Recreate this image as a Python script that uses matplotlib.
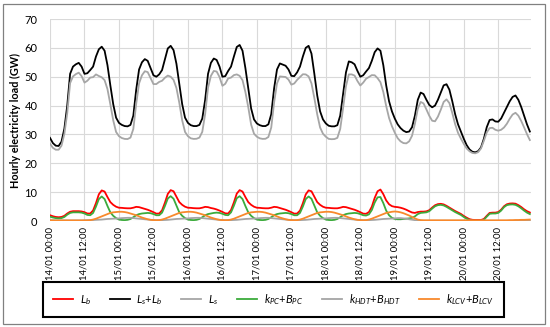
import numpy as np
import matplotlib.pyplot as plt
from matplotlib.patches import Rectangle

plt.rcParams['font.family'] = ['Lato', 'DejaVu Sans']
plt.rcParams['mathtext.fontset'] = 'custom'
plt.rcParams['mathtext.it'] = 'Lato:italic'
plt.rcParams['mathtext.rm'] = 'Lato'

# hourly values, 14/01 00:00 .. 20/01 23:00
tick_labels = ['14/01 00:00', '14/01 12:00', '15/01 00:00', '15/01 12:00',
               '16/01 00:00', '16/01 12:00', '17/01 00:00', '17/01 12:00',
               '18/01 00:00', '18/01 12:00', '19/01 00:00', '19/01 12:00',
               '20/01 00:00', '20/01 12:00']

# Ls+Lb (GW)
ls_lb = [
    28.8, 27.0, 26.1, 26.0, 27.5, 32.0, 40.0, 51.0, 53.5, 54.3, 54.8, 53.5, 51.0, 51.2, 52.3, 53.5, 57.0, 59.5, 60.4, 59.0, 54.0, 47.0, 40.5, 35.8,
    34.0, 33.3, 32.9, 32.8, 33.3, 36.5, 45.5, 52.5, 55.0, 56.1, 55.5, 53.0, 50.5, 50.0, 50.8, 52.3, 56.0, 59.8, 60.7, 59.2, 54.5, 47.5, 40.5, 35.8,
    34.0, 33.2, 32.9, 32.9, 33.3, 35.5, 42.0, 51.0, 54.8, 56.3, 55.8, 53.5, 50.0, 50.2, 52.0, 53.5, 57.0, 60.3, 61.0, 59.0, 53.0, 46.0, 39.0, 35.2,
    33.8, 33.2, 32.9, 32.9, 33.5, 37.0, 46.0, 52.5, 54.6, 54.2, 53.8, 52.5, 50.3, 50.2, 51.5, 53.5, 57.0, 60.0, 60.7, 58.0, 51.0, 43.5, 38.0, 35.2,
    33.8, 33.0, 32.8, 32.8, 33.2, 36.5, 44.0, 51.5, 55.3, 55.0, 54.3, 52.0, 50.0, 50.5, 51.8, 53.0, 55.5, 58.5, 59.8, 59.0, 54.0, 47.0, 41.5, 38.0,
    35.5, 33.5, 32.2, 31.3, 30.8, 31.0, 32.5, 36.5, 42.0, 44.5, 44.0, 42.0, 40.2, 39.4, 40.0, 42.0, 44.5, 47.0, 47.4, 45.5, 41.5, 37.0, 33.5, 31.0,
    28.5, 26.3, 24.8, 24.0, 23.8, 24.2, 25.5, 28.5, 32.5, 35.0, 35.2, 34.5, 34.4, 35.5, 37.5, 39.5, 41.5, 43.0, 43.5, 42.0, 39.5, 36.5, 33.5, 31.0,
]

# kPC+BPC
k_pc = [
    1.5, 1.2, 1.0, 0.9, 1.0, 1.4, 2.2, 2.8, 3.0, 3.0, 3.0, 2.9, 2.6, 2.1, 2.0, 2.8, 5.0, 7.6, 8.5, 7.6, 5.2, 3.0, 1.8, 1.0,
    0.5, 0.35, 0.3, 0.4, 0.7, 1.3, 2.0, 2.4, 2.6, 2.7, 2.8, 2.7, 2.4, 2.0, 2.0, 2.9, 5.2, 7.8, 8.6, 7.7, 5.3, 3.0, 1.8, 1.0,
    0.5, 0.35, 0.3, 0.4, 0.7, 1.3, 2.0, 2.4, 2.6, 2.8, 2.9, 2.8, 2.5, 2.1, 2.0, 3.0, 5.3, 7.9, 8.6, 7.6, 5.2, 3.0, 1.8, 1.0,
    0.5, 0.35, 0.3, 0.4, 0.7, 1.3, 2.0, 2.4, 2.6, 2.7, 2.8, 2.7, 2.4, 2.0, 2.0, 2.8, 5.0, 7.6, 8.5, 7.7, 5.3, 3.0, 1.8, 1.0,
    0.5, 0.35, 0.3, 0.4, 0.7, 1.3, 2.0, 2.4, 2.6, 2.7, 2.8, 2.7, 2.4, 2.0, 1.9, 2.3, 3.8, 6.4, 8.2, 8.3, 6.2, 3.6, 2.0, 1.1,
    0.7, 0.6, 0.6, 0.7, 0.8, 0.9, 1.1, 1.6, 2.4, 2.8, 2.9, 3.0, 3.4, 4.3, 5.1, 5.5, 5.6, 5.4, 4.9, 4.3, 3.7, 3.1, 2.6, 2.1,
    1.4, 0.8, 0.3, 0.1, 0.05, 0.05, 0.05, 0.4, 1.5, 2.5, 2.6, 2.6, 2.8, 3.6, 4.8, 5.5, 5.7, 5.75, 5.6, 5.1, 4.4, 3.6, 2.9, 2.4,
]

# kHDT+BHDT
k_hdt = [
    0.2, 0.2, 0.2, 0.2, 0.2, 0.2, 0.2, 0.2, 0.2, 0.2, 0.2, 0.2, 0.25, 0.3, 0.3, 0.35, 0.4, 0.45, 0.5, 0.6, 0.7, 0.75, 0.8, 0.85,
    0.9, 1.0, 1.05, 1.1, 1.1, 1.0, 0.9, 0.8, 0.7, 0.6, 0.5, 0.4, 0.35, 0.3, 0.3, 0.3, 0.35, 0.4, 0.5, 0.6, 0.7, 0.75, 0.8, 0.85,
    0.9, 1.0, 1.05, 1.1, 1.1, 1.0, 0.9, 0.8, 0.7, 0.6, 0.5, 0.4, 0.35, 0.3, 0.3, 0.3, 0.35, 0.4, 0.5, 0.6, 0.7, 0.75, 0.8, 0.85,
    0.9, 1.0, 1.05, 1.1, 1.1, 1.0, 0.9, 0.8, 0.7, 0.6, 0.5, 0.4, 0.35, 0.3, 0.3, 0.3, 0.35, 0.4, 0.5, 0.6, 0.7, 0.75, 0.8, 0.85,
    0.9, 1.0, 1.05, 1.1, 1.1, 1.0, 0.9, 0.8, 0.7, 0.6, 0.5, 0.4, 0.35, 0.3, 0.3, 0.3, 0.35, 0.4, 0.5, 0.6, 0.7, 0.75, 0.8, 0.85,
    0.9, 1.0, 1.0, 0.9, 0.8, 0.6, 0.45, 0.3, 0.2, 0.15, 0.1, 0.1, 0.1, 0.1, 0.1, 0.1, 0.1, 0.1, 0.1, 0.1, 0.1, 0.1, 0.1, 0.1,
    0.1, 0.1, 0.08, 0.06, 0.05, 0.05, 0.05, 0.05, 0.05, 0.05, 0.05, 0.05, 0.05, 0.05, 0.05, 0.05, 0.05, 0.05, 0.05, 0.05, 0.05, 0.05, 0.05, 0.05,
]

# kLCV+BLCV
k_lcv = [
    0.3, 0.25, 0.2, 0.2, 0.2, 0.2, 0.2, 0.2, 0.2, 0.2, 0.2, 0.2, 0.2, 0.2, 0.3, 0.5, 0.8, 1.2, 1.6, 2.0, 2.4, 2.8, 3.0, 3.1,
    3.2, 3.2, 3.1, 2.9, 2.6, 2.3, 2.0, 1.6, 1.2, 0.9, 0.6, 0.4, 0.3, 0.25, 0.3, 0.5, 0.8, 1.2, 1.6, 2.0, 2.4, 2.8, 3.0, 3.1,
    3.2, 3.2, 3.1, 2.9, 2.6, 2.3, 2.0, 1.6, 1.2, 0.9, 0.6, 0.4, 0.3, 0.25, 0.3, 0.5, 0.8, 1.2, 1.6, 2.0, 2.4, 2.8, 3.0, 3.1,
    3.2, 3.2, 3.1, 2.9, 2.6, 2.3, 2.0, 1.6, 1.2, 0.9, 0.6, 0.4, 0.3, 0.25, 0.3, 0.5, 0.8, 1.2, 1.6, 2.0, 2.4, 2.8, 3.0, 3.1,
    3.2, 3.2, 3.1, 2.9, 2.6, 2.3, 2.0, 1.6, 1.2, 0.9, 0.6, 0.4, 0.3, 0.25, 0.3, 0.5, 0.8, 1.2, 1.6, 2.0, 2.4, 2.8, 3.0, 3.2,
    3.3, 3.2, 3.0, 2.7, 2.3, 1.9, 1.4, 0.9, 0.5, 0.3, 0.25, 0.25, 0.25, 0.25, 0.25, 0.25, 0.25, 0.25, 0.25, 0.25, 0.25, 0.25, 0.25, 0.25,
    0.25, 0.25, 0.25, 0.25, 0.25, 0.25, 0.25, 0.25, 0.25, 0.25, 0.25, 0.25, 0.25, 0.25, 0.25, 0.25, 0.3, 0.3, 0.35, 0.35, 0.4, 0.4, 0.45, 0.5,
]

hours = np.arange(len(ls_lb))
l_b = np.array(k_pc) + np.array(k_hdt) + np.array(k_lcv)
l_s = np.array(ls_lb) - l_b

fig = plt.figure(figsize=(5.5, 3.27), dpi=100)
ax = fig.add_axes([50 / 550, 1 - 221 / 327, 481 / 550, 202 / 327])

lw = 1.3
ax.plot(hours, l_b, color='#ff0000', lw=lw, label=r'$L_b$')
ax.plot(hours, ls_lb, color='#000000', lw=lw, label=r'$L_s$+$L_b$')
ax.plot(hours, l_s, color='#a6a6a6', lw=lw, label=r'$L_s$')
ax.plot(hours, k_pc, color='#3cab3c', lw=lw, label=r'$k_{PC}$+$B_{PC}$')
ax.plot(hours, k_hdt, color='#a5a5a5', lw=lw, label=r'$k_{HDT}$+$B_{HDT}$')
ax.plot(hours, k_lcv, color='#f8892c', lw=lw, label=r'$k_{LCV}$+$B_{LCV}$')

ax.set_xlim(0, 167.4)
ax.set_ylim(0, 70)
ax.set_yticks(range(0, 71, 10))
ax.set_xticks(range(0, 168, 12))
ax.set_xticklabels(tick_labels, rotation=90, fontsize=6.8)
ax.tick_params(axis='y', labelsize=8, length=0, pad=9)
ax.tick_params(axis='x', length=0, pad=4)
ax.grid(color='#d9d9d9', lw=0.8)
ax.set_axisbelow(True)
for s in ax.spines.values():
    s.set_visible(False)

fig.text(15 / 550, 1 - 120 / 327, 'Hourly electricity load (GW)', rotation=90,
         ha='center', va='center', fontsize=7.8, fontweight='bold')

leg = fig.legend(loc='lower left', ncol=6, mode='expand',
                 bbox_to_anchor=(43 / 550, 1 - 317 / 327, 461 / 550, 35 / 327),
                 borderaxespad=0, fontsize=8, handlelength=1.8,
                 handletextpad=0.6, borderpad=0.9, fancybox=False,
                 framealpha=1)
leg.get_frame().set_edgecolor('black')
leg.get_frame().set_linewidth(1.5)

fig.patches.append(Rectangle((3 / 550, 1 - 323.5 / 327), 541.5 / 550, 320 / 327,
                             transform=fig.transFigure, fill=False,
                             edgecolor='#808080', lw=0.9))

fig.savefig('out.png', dpi=100)
